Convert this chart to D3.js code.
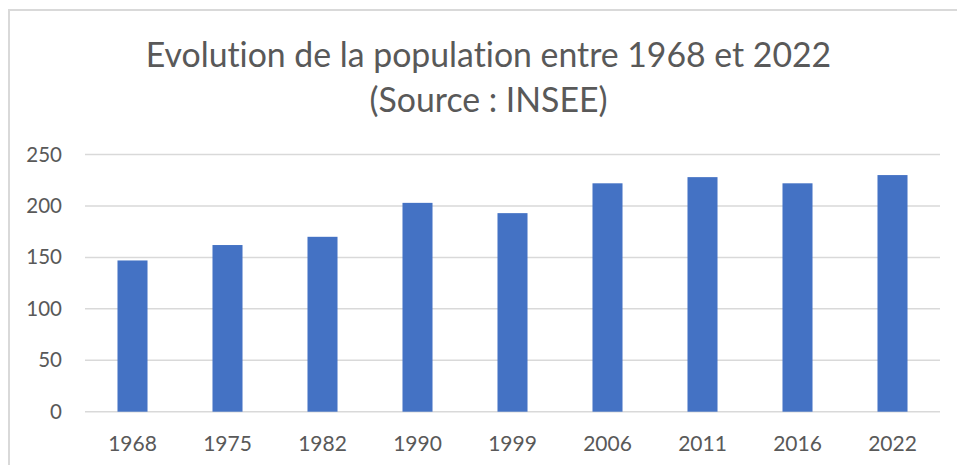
<!DOCTYPE html>
<html>
<head>
<meta charset="utf-8">
<script src="https://cdn.jsdelivr.net/npm/d3@7"></script>
<style>
  body { margin: 0; background: #fff; }
  svg { display: block; font-family: Lato, "Open Sans", sans-serif; font-variant-ligatures: none; }
</style>
</head>
<body>
<div id="chart"></div>
<script>
const years  = ["1968", "1975", "1982", "1990", "1999", "2006", "2011", "2016", "2022"];
const values = [147, 162, 170, 203, 193, 222, 228, 222, 230];
const yTicks = [0, 50, 100, 150, 200, 250];
const titleLines = ["Evolution de la population entre 1968 et 2022", "(Source : INSEE)"];

const W = 957, H = 465;
const dims = { left: 85, right: 17, top: 154.5, bottom: 53.3 };
const TEXT = "#595959", GRID = "#d9d9d9", BAR = "#4472C4";

const svg = d3.select("#chart").append("svg")
  .attr("width", W)
  .attr("height", H);

// chart frame (runs off the right and bottom edge like the reference)
svg.append("rect")
  .attr("x", 9).attr("y", 10)
  .attr("width", W + 20).attr("height", H + 20)
  .attr("fill", "none")
  .attr("stroke", GRID)
  .attr("stroke-width", 2);

const titleG = svg.append("g").attr("fill", TEXT).attr("text-anchor", "middle");
titleG.selectAll("text")
  .data(titleLines)
  .join("text")
    .attr("x", 488.5)
    .attr("y", (d, i) => 67 + i * 45)
    .attr("font-size", 33.8)
    .text(d => d);

const x = d3.scaleBand()
  .domain(years)
  .range([dims.left, W - dims.right])
  .paddingInner(0.684)
  .paddingOuter(0.342);

const y = d3.scaleLinear()
  .domain([0, 250])
  .range([H - dims.bottom, dims.top]);

// gridlines
svg.append("g")
  .selectAll("line")
  .data(yTicks)
  .join("line")
    .attr("x1", dims.left).attr("x2", W - dims.right)
    .attr("y1", d => y(d)).attr("y2", d => y(d))
    .attr("stroke", GRID)
    .attr("stroke-width", 1.5);

// y axis labels
const yAxis = svg.append("g")
  .attr("transform", `translate(${dims.left - 23},0)`)
  .call(d3.axisLeft(y).tickValues(yTicks).tickSize(0).tickPadding(0));
yAxis.select(".domain").remove();
yAxis.selectAll("text")
  .attr("fill", TEXT)
  .attr("font-size", 20.5)
  .attr("font-family", "Lato, sans-serif");

// bars
svg.append("g")
  .selectAll("rect")
  .data(years)
  .join("rect")
    .attr("x", d => x(d))
    .attr("y", (d, i) => y(values[i]))
    .attr("width", x.bandwidth())
    .attr("height", (d, i) => y(0) - y(values[i]))
    .attr("fill", BAR);

// x axis labels
const xAxis = svg.append("g")
  .attr("transform", `translate(0,${y(0)})`)
  .call(d3.axisBottom(x).tickSize(0).tickPadding(24));
xAxis.select(".domain").remove();
xAxis.selectAll("text")
  .attr("fill", TEXT)
  .attr("font-size", 21)
  .attr("font-family", "Lato, sans-serif");
</script>
</body>
</html>
